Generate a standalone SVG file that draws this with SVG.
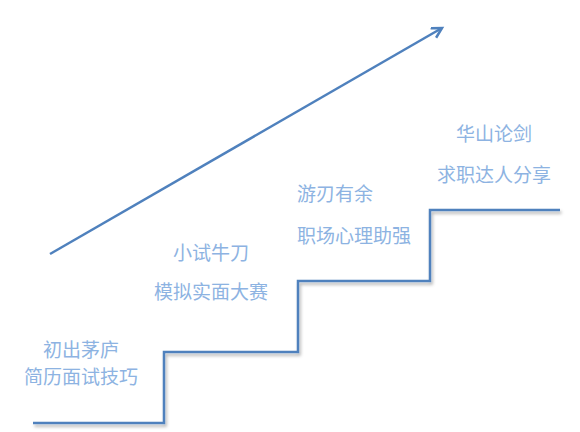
<svg xmlns="http://www.w3.org/2000/svg" width="580" height="432" viewBox="0 0 580 432">
<style>
.t{font-family:"Noto Sans CJK SC","Noto Sans",sans-serif;font-size:19px;fill:#8DB3E2;}
.c{text-anchor:middle;}
.ln{fill:none;stroke:#4F81BD;stroke-width:2.5;}
</style>
<defs>
<filter id="sh" x="-10%" y="-10%" width="120%" height="130%">
<feDropShadow dx="1.5" dy="2.5" stdDeviation="1.5" flood-color="#000" flood-opacity="0.3"/>
</filter>
<marker id="ah" markerWidth="14" markerHeight="14" refX="11" refY="6" orient="auto" markerUnits="userSpaceOnUse">
<path d="M1,0.5 L11,6 L1,11.5" fill="none" stroke="#4F81BD" stroke-width="2.5"/>
</marker>
</defs>
<rect width="580" height="432" fill="#fff"/>
<g id="connectors">
<path class="ln" filter="url(#sh)" d="M33,423 H164 V352 H298 V281 H430 V210 H560"/>
<line class="ln" x1="50" y1="254" x2="442" y2="28" marker-end="url(#ah)"/>
</g>
<g id="step1">
<text class="t c" x="81" y="357">初出茅庐</text>
<text class="t c" x="81" y="384">简历面试技巧</text>
</g>
<g id="step2">
<text class="t c" x="211" y="260">小试牛刀</text>
<text class="t c" x="211" y="299">模拟实面大赛</text>
</g>
<g id="step3">
<text class="t" x="297" y="201">游刃有余</text>
<text class="t" x="297" y="243">职场心理助强</text>
</g>
<g id="step4">
<text class="t c" x="494" y="141">华山论剑</text>
<text class="t c" x="494" y="182">求职达人分享</text>
</g>
</svg>
